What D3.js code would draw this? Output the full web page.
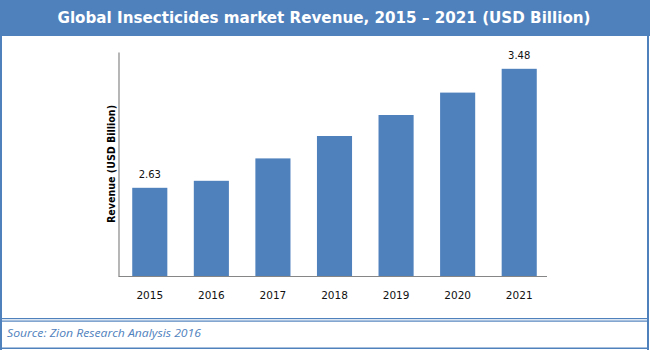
<!DOCTYPE html>
<html>
<head>
<meta charset="utf-8">
<script src="https://cdn.jsdelivr.net/npm/d3@7"></script>
<style>
  html, body { margin: 0; padding: 0; background: #fff; }
  svg { display: block; }
</style>
</head>
<body>
<svg id="chart" width="650" height="350"></svg>
<script>
const years = ["2015", "2016", "2017", "2018", "2019", "2020", "2021"];
const revenue = [2.63, 2.68, 2.84, 3.00, 3.15, 3.31, 3.48];
const labelledYears = ["2015", "2021"];
const titleText = "Global Insecticides market Revenue, 2015 \u2013 2021 (USD Billion)";
const yAxisTitle = "Revenue (USD Billion)";
const sourceText = "Source: Zion Research Analysis 2016";

const blue = "#4f81bd";
const svg = d3.select("#chart");

// Frame
svg.append("rect").attr("x", 0).attr("y", 0).attr("width", 650).attr("height", 36).attr("fill", blue);
svg.append("rect").attr("x", 0).attr("y", 36).attr("width", 2).attr("height", 314).attr("fill", blue);
svg.append("rect").attr("x", 647).attr("y", 36).attr("width", 2).attr("height", 314).attr("fill", blue);
svg.append("rect").attr("x", 0).attr("y", 318).attr("width", 649).attr("height", 1.2).attr("fill", blue);
svg.append("rect").attr("x", 0).attr("y", 320.5).attr("width", 649).attr("height", 1.2).attr("fill", blue);
svg.append("rect").attr("x", 0).attr("y", 347.5).attr("width", 649).attr("height", 1.5).attr("fill", blue);

// Title
svg.append("text")
  .attr("x", 324).attr("y", 23)
  .attr("text-anchor", "middle")
  .attr("font-family", "DejaVu Sans, Verdana, sans-serif")
  .attr("font-weight", "bold")
  .attr("font-size", 15)
  .attr("fill", "#fff")
  .attr("textLength", 533)
  .attr("lengthAdjust", "spacingAndGlyphs")
  .text(titleText);

// Scales
const x = d3.scaleBand().domain(years).range([119, 550]).paddingInner(0.43).paddingOuter(0.215);
const y = d3.scaleLinear().domain([2, 3.6]).range([276, 52]);

// Bars
svg.append("g").selectAll("rect")
  .data(years.map((yr, i) => ({ yr, v: revenue[i] })))
  .join("rect")
  .attr("x", d => x(d.yr))
  .attr("y", d => y(d.v))
  .attr("width", x.bandwidth())
  .attr("height", d => y(2) - y(d.v))
  .attr("fill", blue);

// Axes lines
const axisColor = "#868686";
const yAxis = svg.append("g").attr("transform", "translate(118.5,0)")
  .call(d3.axisLeft(y).tickValues([]).tickSizeOuter(0));
yAxis.select(".domain").attr("stroke", axisColor).attr("stroke-width", 1.2);

const xAxis = svg.append("g").attr("transform", "translate(0,276)")
  .call(d3.axisBottom(x).tickSize(0).tickPadding(16).tickSizeOuter(0));
xAxis.select(".domain").attr("stroke", axisColor).attr("stroke-width", 1.2).attr("d", "M118.5,0.5H547");
xAxis.selectAll("text")
  .attr("font-family", "DejaVu Sans, Verdana, sans-serif")
  .attr("font-size", 10.5)
  .attr("fill", "#111");

// Value labels
svg.append("g").selectAll("text")
  .data(years.map((yr, i) => ({ yr, v: revenue[i] })).filter(d => labelledYears.includes(d.yr)))
  .join("text")
  .attr("x", d => x(d.yr) + x.bandwidth() / 2)
  .attr("y", d => y(d.v) - 9.5)
  .attr("text-anchor", "middle")
  .attr("font-family", "DejaVu Sans, Verdana, sans-serif")
  .attr("font-size", 10)
  .attr("fill", "#111")
  .text(d => d.v.toFixed(2));

// Y axis title
svg.append("text")
  .attr("transform", "translate(115,164) rotate(-90)")
  .attr("text-anchor", "middle")
  .attr("font-family", "DejaVu Sans, Verdana, sans-serif")
  .attr("font-weight", "bold")
  .attr("font-size", 10.5)
  .attr("fill", "#000")
  .attr("textLength", 118)
  .attr("lengthAdjust", "spacingAndGlyphs")
  .text(yAxisTitle);

// Source
svg.append("text")
  .attr("x", 7).attr("y", 337)
  .attr("font-family", "Open Sans, sans-serif")
  .attr("font-style", "italic")
  .attr("font-size", 11.5)
  .attr("fill", blue)
  .attr("textLength", 194)
  .attr("lengthAdjust", "spacingAndGlyphs")
  .text(sourceText);
</script>
</body>
</html>
